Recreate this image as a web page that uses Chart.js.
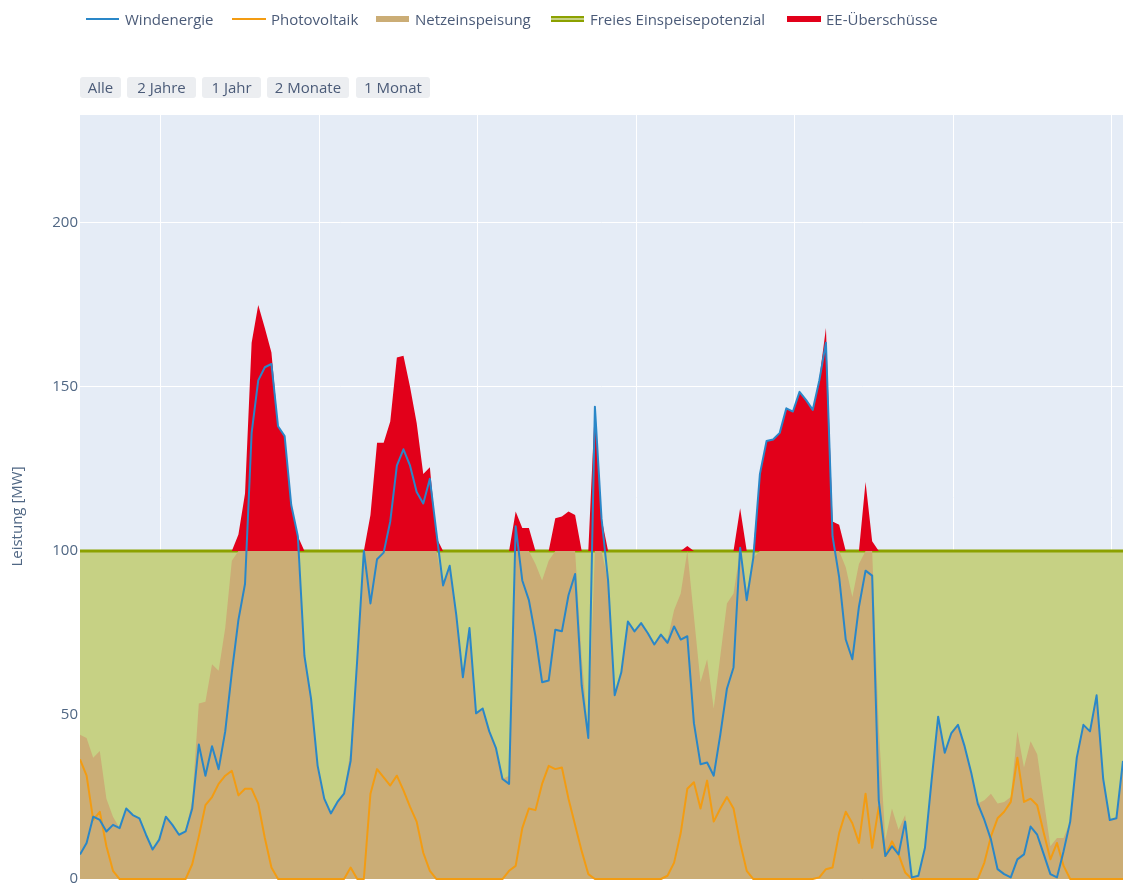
<!DOCTYPE html>
<html><head><meta charset="utf-8">
<script src="https://cdn.jsdelivr.net/npm/chart.js@4.4.1/dist/chart.umd.min.js"></script>
<style>
html,body{margin:0;padding:0;background:#fff;width:1123px;height:884px;overflow:hidden;font-family:"Open Sans",sans-serif;}
#wrap{position:absolute;left:0;top:0;width:1123px;height:884px;}
canvas{position:absolute;left:0;top:0;}
.lg{position:absolute;top:9px;height:20px;font-size:15px;color:#4b5b78;line-height:20px;white-space:nowrap;}
.sym{position:absolute;}
.btn{position:absolute;top:77px;height:21px;line-height:21px;background:#eceef1;border-radius:3px;font-size:15px;color:#4b5b78;text-align:center;}
</style></head>
<body>
<div id="wrap">
<canvas id="c" width="1123" height="884"></canvas>
<div class="sym" style="left:86px;top:18px;width:33px;height:2px;background:#2a87c8"></div>
<div class="lg" style="left:125px">Windenergie</div>
<div class="sym" style="left:232px;top:18px;width:34px;height:2px;background:#f39c12"></div>
<div class="lg" style="left:271px">Photovoltaik</div>
<div class="sym" style="left:376px;top:16px;width:33px;height:6px;background:#cbad76"></div>
<div class="lg" style="left:415px">Netzeinspeisung</div>
<div class="sym" style="left:551px;top:16px;width:33px;height:2px;background:#8ca100"></div>
<div class="sym" style="left:551px;top:18px;width:33px;height:2px;background:#c6d184"></div>
<div class="sym" style="left:551px;top:20px;width:33px;height:2px;background:#8ca100"></div>
<div class="lg" style="left:590px">Freies Einspeisepotenzial</div>
<div class="sym" style="left:787px;top:16px;width:34px;height:6px;background:#e2001a"></div>
<div class="lg" style="left:826px">EE-Überschüsse</div>
<div class="btn" style="left:80px;width:41px">Alle</div>
<div class="btn" style="left:127px;width:69px">2 Jahre</div>
<div class="btn" style="left:202px;width:59px">1 Jahr</div>
<div class="btn" style="left:267px;width:82px">2 Monate</div>
<div class="btn" style="left:356px;width:74px">1 Monat</div>
</div>
<script>
// Hourly values (MW)
const windenergie = [
 7.5, 11, 19, 18, 14.5, 16.5, 15.5, 21.5, 19.5, 18.5,
 13.5, 9, 12, 19, 16.5, 13.5, 14.5, 21.5, 41, 31.5,
 40.5, 33.5, 45, 63, 79, 90, 136, 152, 156, 157,
 138, 135, 114, 104.5, 68, 55, 34.5, 24.5, 20, 23.5,
 26, 36, 67, 100, 84, 97.5, 99.5, 109, 126, 131,
 126, 118, 114.5, 122, 105.5, 89.5, 95.5, 80.5, 61.5, 76.5,
 50.5, 52, 45, 40, 30.5, 29, 107.5, 91, 85, 74,
 60, 60.5, 76, 75.5, 86.5, 93, 59, 43, 144, 110,
 91, 56, 63, 78.5, 75.5, 78, 75, 71.5, 74.5, 72,
 77, 73, 74, 47.5, 35, 35.5, 31.5, 44, 58, 64.5,
 101, 85, 98, 123.5, 133.5, 134, 136, 143.5, 142.5, 148.5,
 146, 143, 152, 163.5, 104.5, 92, 73, 67, 83, 94,
 92.5, 24, 7, 10, 7.5, 17.5, 0.5, 1, 9.5, 30,
 49.5, 38.5, 44.5, 47, 40.5, 32.5, 23, 18, 12, 3,
 1.5, 0.5, 6, 7.5, 16, 13.5, 7.5, 1.5, 0.5, 8.5,
 17.5, 37, 47, 45, 56, 30.5, 18, 18.5, 36
];
const photovoltaik = [
 36.5, 31.5, 18, 20.5, 10, 2.5, 0, 0, 0, 0,
 0, 0, 0, 0, 0, 0, 0, 4.5, 13, 22.5,
 25, 29, 31.5, 33, 25.5, 27.5, 27.5, 23, 12.5, 3.5,
 0, 0, 0, 0, 0, 0, 0, 0, 0, 0,
 0, 3.5, 0, 0, 26, 33.5, 31, 28.5, 31.5, 27,
 22, 17.5, 8, 2.5, 0, 0, 0, 0, 0, 0,
 0, 0, 0, 0, 0, 2.5, 4, 15.5, 21.5, 21,
 29, 34.5, 33.5, 34, 24.5, 16.5, 8.5, 1.5, 0, 0,
 0, 0, 0, 0, 0, 0, 0, 0, 0, 1,
 5, 14, 27.5, 29.5, 21.5, 30, 17.5, 21.5, 25, 21.5,
 11, 2.5, 0, 0, 0, 0, 0, 0, 0, 0,
 0, 0, 0.5, 3, 3.5, 14, 20.5, 17, 11, 26,
 9.5, 22, 7, 11.5, 7.5, 2, 0, 0, 0, 0,
 0, 0, 0, 0, 0, 0, 0, 5, 13, 18.5,
 20.5, 23.5, 37, 23.5, 24.5, 22.5, 14, 6, 11, 4,
 0, 0, 0, 0, 0, 0, 0, 0, 0
];
const netzeinspeisung = [
 44, 43, 37, 39, 24.5, 19, 15.5, 21.5, 19.5, 18.5,
 13.5, 9, 12, 19, 16.5, 13.5, 14.5, 24, 53.5, 54,
 65.5, 63.5, 76.5, 97, 100, 100, 100, 100, 100, 100,
 100, 100, 100, 100, 68, 55, 34.5, 24.5, 20, 23.5,
 26, 39.5, 67, 100, 100, 100, 100, 100, 100, 100,
 100, 100, 100, 100, 100, 89.5, 95.5, 80.5, 61.5, 76.5,
 50.5, 52, 45, 40, 30.5, 31.5, 100, 100, 100, 96,
 91, 97, 100, 100, 100, 100, 67.5, 44.5, 100, 100,
 91, 56, 63, 78.5, 75.5, 78, 75, 71.5, 74.5, 73,
 82, 87, 100, 80, 60, 67, 52, 68, 84, 87,
 100, 87.5, 98, 100, 100, 100, 100, 100, 100, 100,
 100, 100, 100, 100, 100, 100, 95, 86, 96, 100,
 100, 46, 12, 21.5, 15, 19.5, 0.5, 1, 9.5, 30,
 49.5, 38.5, 44.5, 47, 40.5, 32.5, 23, 24, 26, 23,
 23.5, 25, 45, 34, 42, 38, 24, 10, 12.5, 12.5,
 17.5, 37, 47, 45, 56, 30.5, 18, 18.5, 36
];
const freiesPotenzial = [
 100,100,100,100,100,100,100,100,100,100,100,100,100,100,100,100,100,100,100,100,
 100,100,100,100,100,100,100,100,100,100,100,100,100,100,100,100,100,100,100,100,
 100,100,100,100,100,100,100,100,100,100,100,100,100,100,100,100,100,100,100,100,
 100,100,100,100,100,100,100,100,100,100,100,100,100,100,100,100,100,100,100,100,
 100,100,100,100,100,100,100,100,100,100,100,100,100,100,100,100,100,100,100,100,
 100,100,100,100,100,100,100,100,100,100,100,100,100,100,100,100,100,100,100,100,
 100,100,100,100,100,100,100,100,100,100,100,100,100,100,100,100,100,100,100,100,
 100,100,100,100,100,100,100,100,100,100,100,100,100,100,100,100,100,100,100
];
const eeUeberschuesse = [
 100, 100, 100, 100, 100, 100, 100, 100, 100, 100,
 100, 100, 100, 100, 100, 100, 100, 100, 100, 100,
 100, 100, 100, 100, 105, 117.5, 163.5, 175, 168, 160.5,
 138, 135, 114, 104.5, 100, 100, 100, 100, 100, 100,
 100, 100, 100, 100, 111, 133, 133, 139.5, 159, 159.5,
 150, 139, 123.5, 125.5, 104, 100, 100, 100, 100, 100,
 100, 100, 100, 100, 100, 100, 112, 107, 107, 100,
 100, 100, 110, 110.5, 112, 111, 100, 100, 144, 110,
 100, 100, 100, 100, 100, 100, 100, 100, 100, 100,
 100, 100, 101.5, 100, 100, 100, 100, 100, 100, 100,
 113, 100, 100, 123.5, 133.5, 134, 136, 143.5, 142.5, 148.5,
 146, 143, 152.5, 168, 109, 108, 100, 100, 100, 121,
 103, 100, 100, 100, 100, 100, 100, 100, 100, 100,
 100, 100, 100, 100, 100, 100, 100, 100, 100, 100,
 100, 100, 100, 100, 100, 100, 100, 100, 100, 100,
 100, 100, 100, 100, 100, 100, 100, 100, 100
];
// day grid positions (hour index of midnight lines)
const dayTicks = [12.25, 36.25, 60.25, 84.25, 108.25, 132.25, 156.25];
const yTicks = [0, 50, 100, 150, 200];

const xy = arr => arr.map((v, i) => ({x: i, y: v}));

const bgPlugin = {
  id: 'plotBg',
  beforeDraw(chart) {
    const {ctx, chartArea: a} = chart;
    ctx.save();
    ctx.fillStyle = '#e5ecf6';
    ctx.fillRect(a.left, a.top, a.right - a.left, a.bottom - a.top);
    ctx.restore();
  },
  afterLayout(chart) {
    const ys = chart.scales.y;
    if (ys && !ys._patched) {
      const orig = ys.drawTitle.bind(ys);
      ys.drawTitle = function () {
        const c = this.ctx; c.save(); c.translate(0, 19); orig(); c.restore();
      };
      ys._patched = true;
    }
  }
};

new Chart(document.getElementById('c'), {
  type: 'line',
  data: {
    datasets: [
      {label: 'Windenergie', data: xy(windenergie), borderColor: '#2a87c8', borderWidth: 2, pointRadius: 0, fill: false, order: 0, borderJoinStyle: 'round'},
      {label: 'Photovoltaik', data: xy(photovoltaik), borderColor: '#f39c12', borderWidth: 2, pointRadius: 0, fill: false, order: 1, borderJoinStyle: 'round'},
      {label: 'Netzeinspeisung', data: xy(netzeinspeisung), borderWidth: 0, borderColor: 'rgba(0,0,0,0)', backgroundColor: '#cbad76', pointRadius: 0, fill: 'origin', order: 3},
      {label: 'Freies Einspeisepotenzial', data: xy(freiesPotenzial), borderColor: '#8ca100', borderWidth: 3, backgroundColor: '#c6d184', pointRadius: 0, fill: 'origin', order: 4},
      {label: 'EE-Überschüsse', data: xy(eeUeberschuesse), borderWidth: 0, borderColor: 'rgba(0,0,0,0)', backgroundColor: '#e2001a', pointRadius: 0, fill: {value: 100}, order: 2}
    ]
  },
  options: {
    responsive: false,
    animation: false,
    devicePixelRatio: 1,
    events: [],
    layout: {padding: {top: 115, right: 0, bottom: 4, left: 0}},
    plugins: {legend: {display: false}, tooltip: {enabled: false}},
    elements: {line: {tension: 0}},
    scales: {
      x: {
        type: 'linear', min: 0, max: 158,
        afterBuildTicks: s => { s.ticks = dayTicks.map(v => ({value: v})); },
        afterFit: s => { s.height = 0; s.paddingLeft = 0; s.paddingRight = 0; },
        ticks: {display: false},
        grid: {color: '#ffffff', lineWidth: 1, drawTicks: false},
        border: {display: false}
      },
      y: {
        min: -0.3, max: 232.9,
        afterBuildTicks: s => { s.ticks = yTicks.map(v => ({value: v})); },
        afterFit: s => { s.width = 80; s.paddingTop = 0; s.paddingBottom = 0; },
        ticks: {color: '#506784', font: {family: 'Open Sans', size: 15}, padding: 2},
        grid: {color: '#ffffff', lineWidth: 1, drawTicks: false},
        border: {display: false},
        title: {display: true, text: 'Leistung [MW]', color: '#506784', font: {family: 'Open Sans', size: 15}, padding: {top: 9, bottom: 0}}
      }
    }
  },
  plugins: [bgPlugin]
});
</script>
</body></html>
